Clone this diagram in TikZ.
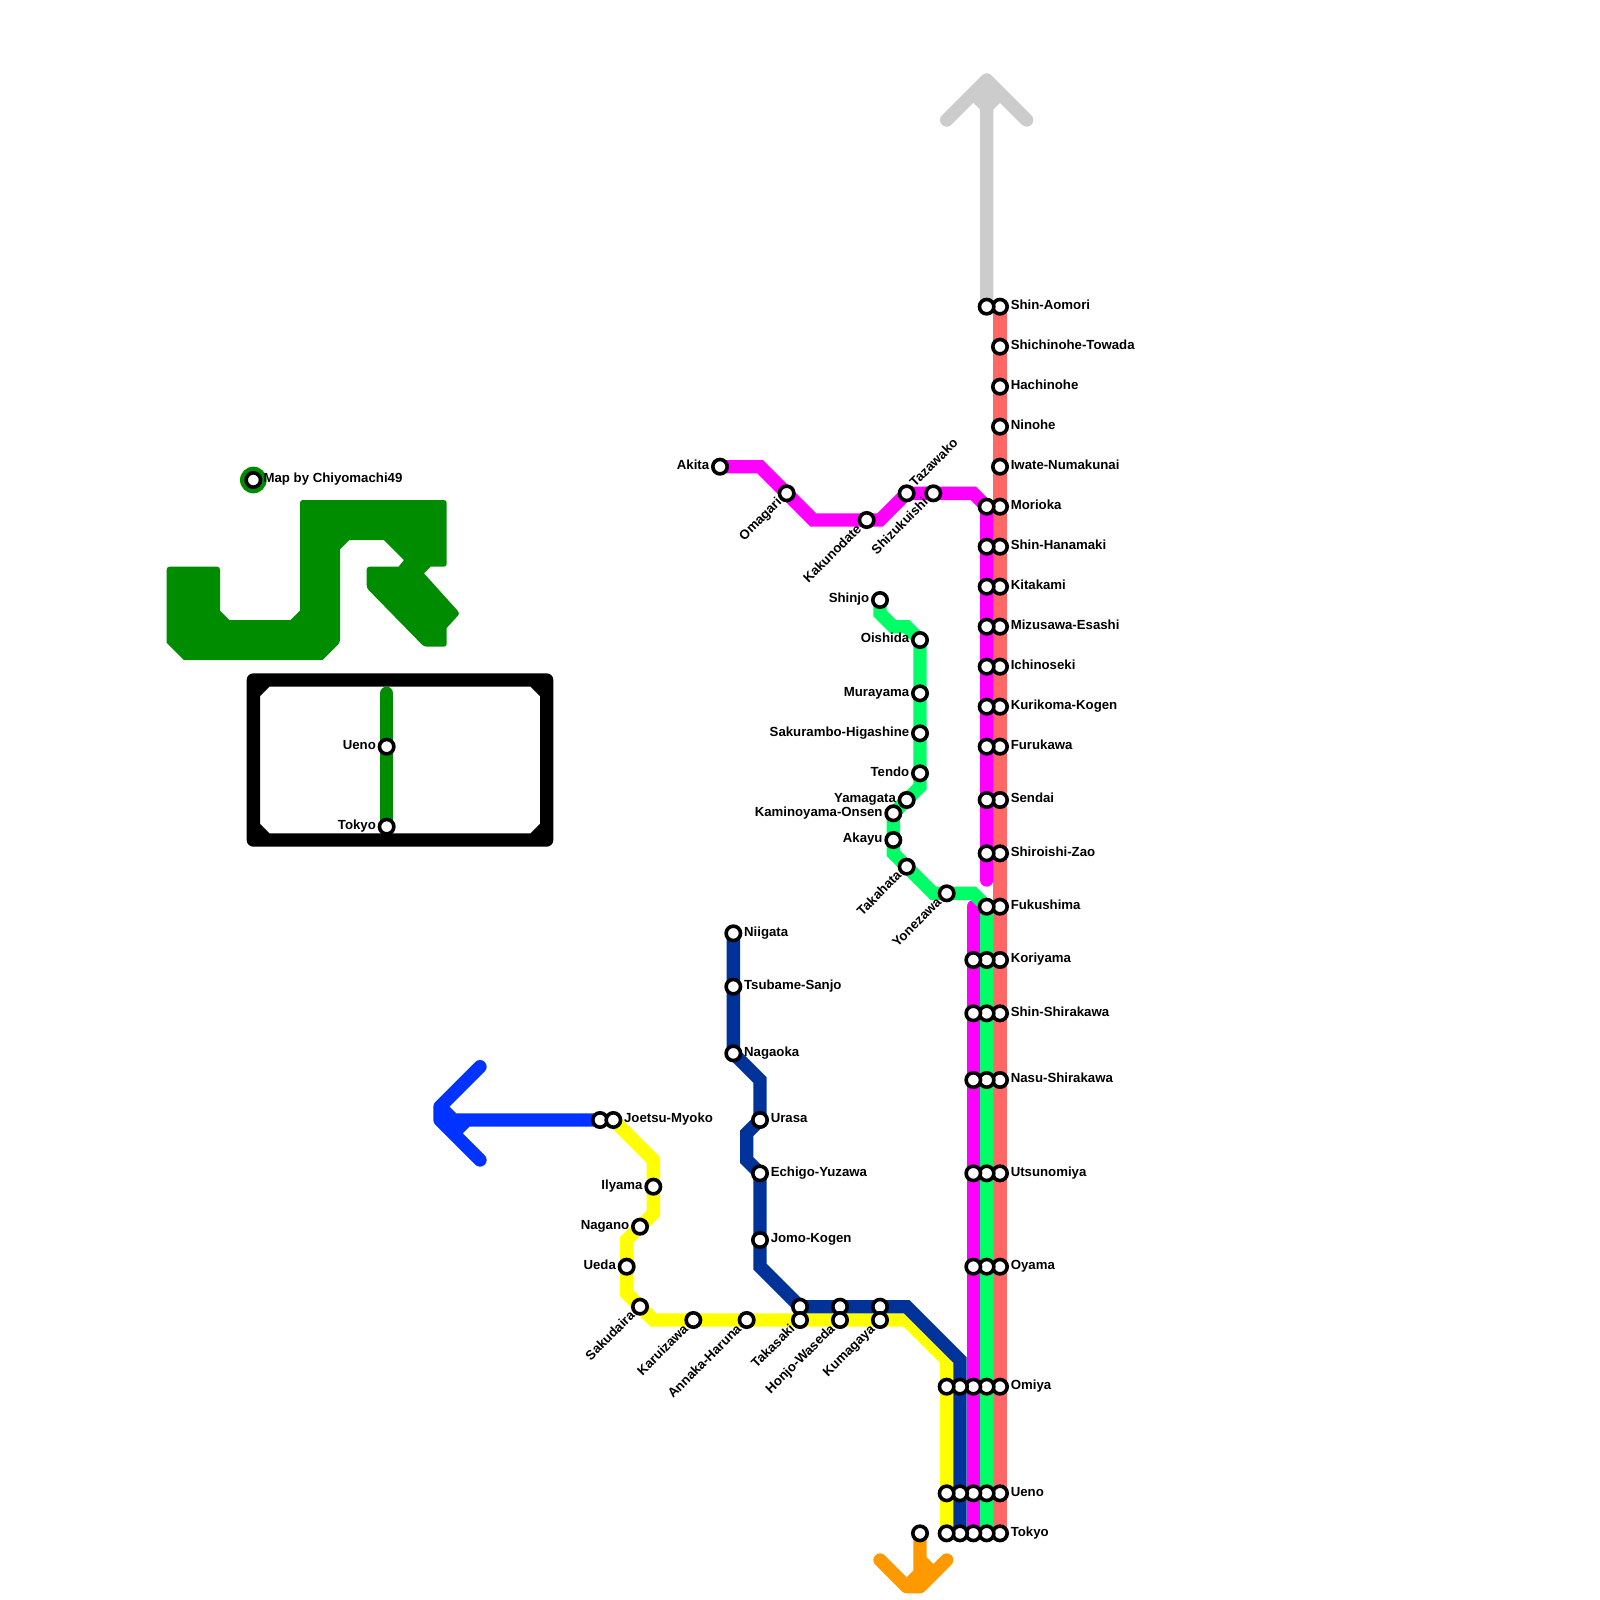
\documentclass[tikz,border=0pt]{standalone}
\usepackage{fontspec}
\setmainfont{Liberation Sans}
\usetikzlibrary{positioning}
\pgfdeclarelayer{lines}
\pgfsetlayers{lines,main}
\definecolor{LineRed}{HTML}{FF6666}
\definecolor{LineGreen}{HTML}{00FF66}
\definecolor{LineMagenta}{HTML}{FF00FF}
\definecolor{LineNavy}{HTML}{003399}
\definecolor{LineYellow}{HTML}{FFFF00}
\definecolor{LineBlue}{HTML}{0033FF}
\definecolor{LineOrange}{HTML}{FF9900}
\definecolor{LineGrey}{HTML}{CCCCCC}
\definecolor{LogoGreen}{HTML}{008C00}
\tikzset{
  stn/.style={circle, draw=black, fill=white, line width=1.35mm, minimum size=5.4mm, inner sep=0pt},
  lbl/.style={inner sep=0pt, font=\fontsize{14.1}{14.5}\selectfont\bfseries, text height=.72em, text depth=.12em},
  lblr/.style={lbl, right=.6mm of #1},
  lbll/.style={lbl, left=.6mm of #1},
  lbld/.style={lbl, rotate=45, anchor=east, xshift=-1pt, yshift=-1pt},
  lblu/.style={lbl, rotate=45, anchor=west, xshift=1pt, yshift=1pt},
  rail/.style={line width=.5cm, line cap=round, line join=miter},
  arrowrail/.style={line width=.5cm, line cap=round, line join=round}
}
\begin{document}
\begin{tikzpicture}[x=.5cm,y=-.5cm]
\useasboundingbox (0,0) rectangle (120,120);
% logo
\fill[LogoGreen, rounded corners=3pt] (12.5,42.5) -- (16.5,42.5) [sharp corners] -- (16.5,45.8) -- (17.2,46.5) -- (21.8,46.5) -- (22.5,45.8) [rounded corners=3pt] -- (22.5,37.5) -- (33.5,37.5) -- (33.5,42.5) [sharp corners] -- (32.3,42.5) -- (31.8,43) [rounded corners=3pt] -- (34.5,46) [sharp corners] -- (33.5,47.1) [rounded corners=3pt] -- (33.5,48.5) -- (31.8,48.5) -- (27.5,44.1) -- (27.5,42.5) [sharp corners] -- (29.9,42.5) -- (30.3,42) -- (28.8,40.5) -- (26.2,40.5) -- (25.5,41.2) [rounded corners=3pt] -- (25.5,48.2) [sharp corners] -- (24.2,49.5) -- (13.8,49.5) -- (12.5,48.2) [rounded corners=3pt] -- cycle;
\fill[LogoGreen] (19,36) circle (1);
\node[stn] (credit) at (19,36) {};
\node[lbl, right=.4mm of credit] (creditl) {Map by Chiyomachi49};
% inset frame
\draw[arrowrail, black] (19,51) -- (41,51) -- (41,63) -- (19,63) -- cycle (19,52) -- (20,51) (40,51) -- (41,52) (41,62) -- (40,63) (20,63) -- (19,62);
\coordinate (insettop) at (29,52);
\node[stn] (insetueno) at (29,56) {};
\node[stn] (insettokyo) at (29,62) {};
\node[lbll=insetueno] (insetuenol) {Ueno};
\node[lbll=insettokyo] (insettokyol) {Tokyo};
% red column
\node[stn] (aomoriR) at (75,23) {};
\node[stn] (shichinoheR) at (75,26) {};
\node[stn] (hachinoheR) at (75,29) {};
\node[stn] (ninoheR) at (75,32) {};
\node[stn] (iwateR) at (75,35) {};
\node[stn] (moriokaR) at (75,38) {};
\node[stn] (hanamakiR) at (75,41) {};
\node[stn] (kitakamiR) at (75,44) {};
\node[stn] (mizusawaR) at (75,47) {};
\node[stn] (ichinosekiR) at (75,50) {};
\node[stn] (kurikomaR) at (75,53) {};
\node[stn] (furukawaR) at (75,56) {};
\node[stn] (sendaiR) at (75,60) {};
\node[stn] (shiroishiR) at (75,64) {};
\node[stn] (fukushimaR) at (75,68) {};
\node[stn] (koriyamaR) at (75,72) {};
\node[stn] (shirakawaR) at (75,76) {};
\node[stn] (nasuR) at (75,81) {};
\node[stn] (utsunomiyaR) at (75,88) {};
\node[stn] (oyamaR) at (75,95) {};
\node[stn] (omiyaR) at (75,104) {};
\node[stn] (uenoR) at (75,112) {};
\node[stn] (tokyoR) at (75,115) {};
\node[lblr=aomoriR] (aomoril) {Shin-Aomori};
\node[lblr=shichinoheR] (shichinohel) {Shichinohe-Towada};
\node[lblr=hachinoheR] (hachinohel) {Hachinohe};
\node[lblr=ninoheR] (ninohel) {Ninohe};
\node[lblr=iwateR] (iwatel) {Iwate-Numakunai};
\node[lblr=moriokaR] (moriokal) {Morioka};
\node[lblr=hanamakiR] (hanamakil) {Shin-Hanamaki};
\node[lblr=kitakamiR] (kitakamil) {Kitakami};
\node[lblr=mizusawaR] (mizusawal) {Mizusawa-Esashi};
\node[lblr=ichinosekiR] (ichinosekil) {Ichinoseki};
\node[lblr=kurikomaR] (kurikomal) {Kurikoma-Kogen};
\node[lblr=furukawaR] (furukawal) {Furukawa};
\node[lblr=sendaiR] (sendail) {Sendai};
\node[lblr=shiroishiR] (shiroishil) {Shiroishi-Zao};
\node[lblr=fukushimaR] (fukushimal) {Fukushima};
\node[lblr=koriyamaR] (koriyamal) {Koriyama};
\node[lblr=shirakawaR] (shirakawal) {Shin-Shirakawa};
\node[lblr=nasuR] (nasul) {Nasu-Shirakawa};
\node[lblr=utsunomiyaR] (utsunomiyal) {Utsunomiya};
\node[lblr=oyamaR] (oyamal) {Oyama};
\node[lblr=omiyaR] (omiyal) {Omiya};
\node[lblr=uenoR] (uenol) {Ueno};
\node[lblr=tokyoR] (tokyol) {Tokyo};
% second column
\node[stn] (aomoriG) at (74,23) {};
\node[stn] (moriokaM) at (74,38) {};
\node[stn] (hanamakiM) at (74,41) {};
\node[stn] (kitakamiM) at (74,44) {};
\node[stn] (mizusawaM) at (74,47) {};
\node[stn] (ichinosekiM) at (74,50) {};
\node[stn] (kurikomaM) at (74,53) {};
\node[stn] (furukawaM) at (74,56) {};
\node[stn] (sendaiM) at (74,60) {};
\node[stn] (shiroishiM) at (74,64) {};
\node[stn] (fukushimaG) at (74,68) {};
\node[stn] (koriyamaG) at (74,72) {};
\node[stn] (shirakawaG) at (74,76) {};
\node[stn] (nasuG) at (74,81) {};
\node[stn] (utsunomiyaG) at (74,88) {};
\node[stn] (oyamaG) at (74,95) {};
\node[stn] (omiyaG) at (74,104) {};
\node[stn] (uenoG) at (74,112) {};
\node[stn] (tokyoG) at (74,115) {};
% third column
\node[stn] (koriyamaM) at (73,72) {};
\node[stn] (shirakawaM) at (73,76) {};
\node[stn] (nasuM) at (73,81) {};
\node[stn] (utsunomiyaM) at (73,88) {};
\node[stn] (oyamaM) at (73,95) {};
\node[stn] (omiyaM) at (73,104) {};
\node[stn] (uenoM) at (73,112) {};
\node[stn] (tokyoM) at (73,115) {};
% navy and yellow columns
\node[stn] (omiyaB) at (72,104) {};
\node[stn] (uenoB) at (72,112) {};
\node[stn] (tokyoB) at (72,115) {};
\node[stn] (omiyaY) at (71,104) {};
\node[stn] (uenoY) at (71,112) {};
\node[stn] (tokyoY) at (71,115) {};
% akita branch
\node[stn] (akita) at (54,35) {};
\node[stn] (omagari) at (59,37) {};
\node[stn] (kakunodate) at (65,39) {};
\node[stn] (tazawako) at (68,37) {};
\node[stn] (shizukuishi) at (70,37) {};
\node[lbll=akita] (akital) {Akita};
\node[lbld] (omagaril) at (omagari.south west) {Omagari};
\node[lbld] (kakunodatel) at (kakunodate.south west) {Kakunodate};
\node[lblu] (tazawakol) at (tazawako.north east) {Tazawako};
\node[lbld] (shizukuishil) at (shizukuishi.south west) {Shizukuishi};
% yamagata branch
\node[stn] (shinjo) at (66,45) {};
\node[stn] (oishida) at (69,48) {};
\node[stn] (murayama) at (69,52) {};
\node[stn] (sakurambo) at (69,55) {};
\node[stn] (tendo) at (69,58) {};
\node[stn] (yamagata) at (68,60) {};
\node[stn] (kaminoyama) at (67,61) {};
\node[stn] (akayu) at (67,63) {};
\node[stn] (takahata) at (68,65) {};
\node[stn] (yonezawa) at (71,67) {};
\node[lbll=shinjo] (shinjol) {Shinjo};
\node[lbll=oishida] (oishidal) {Oishida};
\node[lbll=murayama] (murayamal) {Murayama};
\node[lbll=sakurambo] (sakurambol) {Sakurambo-Higashine};
\node[lbll=tendo] (tendol) {Tendo};
\node[lbll=yamagata] (yamagatal) {Yamagata};
\node[lbll=kaminoyama] (kaminoyamal) {Kaminoyama-Onsen};
\node[lbll=akayu] (akayul) {Akayu};
\node[lbld] (takahatal) at (takahata.south west) {Takahata};
\node[lbld] (yonezawal) at (yonezawa.south west) {Yonezawa};
% joetsu line
\node[stn] (niigata) at (55,70) {};
\node[stn] (tsubame) at (55,74) {};
\node[stn] (nagaoka) at (55,79) {};
\node[stn] (urasa) at (57,84) {};
\node[stn] (yuzawa) at (57,88) {};
\node[stn] (jomo) at (57,93) {};
\node[stn] (takasakiB) at (60,98) {};
\node[stn] (honjoB) at (63,98) {};
\node[stn] (kumagayaB) at (66,98) {};
\node[lblr=niigata] (niigatal) {Niigata};
\node[lblr=tsubame] (tsubamel) {Tsubame-Sanjo};
\node[lblr=nagaoka] (nagaokal) {Nagaoka};
\node[lblr=urasa] (urasal) {Urasa};
\node[lblr=yuzawa] (yuzawal) {Echigo-Yuzawa};
\node[lblr=jomo] (jomol) {Jomo-Kogen};
% hokuriku line
\node[stn] (myokoL) at (45,84) {};
\node[stn] (myoko) at (46,84) {};
\node[stn] (iiyama) at (49,89) {};
\node[stn] (nagano) at (48,92) {};
\node[stn] (ueda) at (47,95) {};
\node[stn] (sakudaira) at (48,98) {};
\node[stn] (karuizawa) at (52,99) {};
\node[stn] (annaka) at (56,99) {};
\node[stn] (takasakiY) at (60,99) {};
\node[stn] (honjoY) at (63,99) {};
\node[stn] (kumagayaY) at (66,99) {};
\node[lblr=myoko] (myokol) {Joetsu-Myoko};
\node[lbll=iiyama] (iiyamal) {Ilyama};
\node[lbll=nagano] (naganol) {Nagano};
\node[lbll=ueda] (uedal) {Ueda};
\node[lbld] (sakudairal) at (sakudaira.south west) {Sakudaira};
\node[lbld] (karuizawal) at (karuizawa.south west) {Karuizawa};
\node[lbld] (annakal) at (annaka.south west) {Annaka-Haruna};
\node[lbld] (takasakil) at (takasakiY.south west) {Takasaki};
\node[lbld] (honjol) at (honjoY.south west) {Honjo-Waseda};
\node[lbld] (kumagayal) at (kumagayaY.south west) {Kumagaya};
% south branch
\node[stn] (south) at (69,115) {};
\coordinate (greytip) at (74,6);
\coordinate (bluetip) at (33,84);
\coordinate (magentaend) at (74,66);
\coordinate (magentastart) at (73,68);
\begin{pgfonlayer}{lines}
\draw[rail, LogoGreen] (insettop) -- (insettokyo.center);
\draw[arrowrail, LineGrey] (aomoriG.center) -- (greytip) (71,9) -- (greytip) -- (77,9) (73,7) -- (74,8) -- (75,7);
\draw[rail, LineRed] (aomoriR.center) -- (tokyoR.center);
\draw[rail, LineMagenta] (akita.center) -- (57,35) -- (61,39) -- (66,39) -- (tazawako.center) -- (73,37) -- (moriokaM.center) -- (magentaend);
\draw[rail, LineMagenta] (magentastart) -- (tokyoM.center);
\draw[rail, LineGreen] (shinjo.center) -- (66,46) -- (67,47) -- (68,47) -- (oishida.center) -- (69,59) -- (kaminoyama.center) -- (67,64) -- (70,67) -- (73,67) -- (fukushimaG.center) -- (tokyoG.center);
\draw[rail, LineYellow] (myoko.center) -- (49,87) -- (49,91) -- (47,93) -- (47,97) -- (49,99) -- (68,99) -- (71,102) -- (tokyoY.center);
\draw[rail, LineNavy] (niigata.center) -- (nagaoka.center) -- (57,81) -- (urasa.center) -- (56,85) -- (56,87) -- (yuzawa.center) -- (57,95) -- (takasakiB.center) -- (68,98) -- (72,102) -- (tokyoB.center);
\draw[arrowrail, LineBlue] (myokoL.center) -- (bluetip) (36,80) -- (33,83) -- (bluetip) -- (36,87) (33,83) -- (34,84) (35,84) -- (34,85);
\draw[arrowrail, LineOrange] (south.center) -- (69,119) (66,117) -- (68,119) -- (69,119) -- (71,117) (68,119) -- (69,118) (69,117) -- (70,118);
\end{pgfonlayer}
\end{tikzpicture}
\end{document}
